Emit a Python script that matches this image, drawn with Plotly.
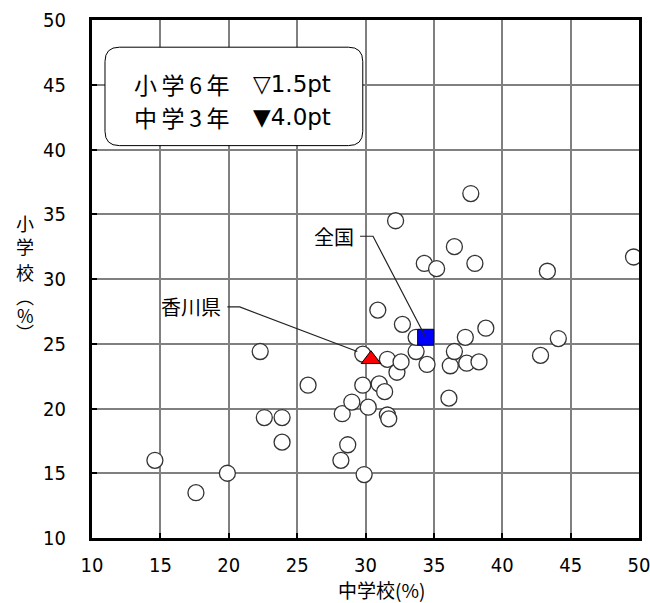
import plotly.graph_objects as go

# 中学校(%) vs 小学校(%) by prefecture
middle_school = [14.6, 17.6, 19.9, 22.3, 22.6, 23.9, 23.9, 25.8, 28.2, 28.3,
                 28.7, 29.0, 29.9, 29.8, 29.8, 30.2, 30.9, 31.0, 31.4, 31.6,
                 31.6, 31.7, 32.2, 32.3, 32.6, 32.7, 33.7, 34.3, 34.5, 35.2,
                 36.1, 36.2, 36.5, 36.5, 37.3, 37.4, 37.7, 38.0, 38.3, 38.8,
                 42.8, 43.3, 44.1, 49.6, 33.7]
elementary = [16.0, 13.5, 15.0, 24.4, 19.3, 19.3, 17.4, 21.8, 16.0, 19.6,
              17.2, 20.5, 14.9, 24.2, 21.8, 20.1, 27.6, 21.9, 21.3, 23.8,
              19.5, 19.2, 34.5, 22.8, 23.6, 26.5, 24.4, 31.2, 23.4, 30.8,
              20.8, 23.3, 32.5, 24.4, 25.5, 23.5, 36.6, 31.2, 23.6, 26.2,
              24.1, 30.6, 25.4, 31.7, 25.5]

kagawa_x, kagawa_y = [30.4], [23.8]
national_x, national_y = [34.4], [25.5]

tick_vals = [10, 15, 20, 25, 30, 35, 40, 45, 50]
tick_text = [str(v) for v in tick_vals]

legend_lines = [("小\u2009学\u20096\u2009年", "▽1.5pt"), ("中\u2009学\u20093\u2009年", "▼4.0pt")]

tick_font = dict(family="Liberation Sans Narrow, DejaVu Sans Condensed, Liberation Sans, sans-serif",
                 size=20, color="black")
jp_font = "Noto Sans CJK JP, sans-serif"

fig = go.Figure()
fig.add_trace(go.Scatter(
    x=middle_school, y=elementary, mode="markers",
    marker=dict(symbol="circle", size=16, color="white",
                line=dict(color="#333333", width=1.3)),
    hoverinfo="x+y", showlegend=False))
fig.add_trace(go.Scatter(
    x=national_x, y=national_y, mode="markers",
    marker=dict(symbol="square", size=16, color="#0000ff",
                line=dict(color="black", width=1)),
    showlegend=False))
fig.add_trace(go.Scatter(
    x=kagawa_x, y=kagawa_y, mode="markers",
    marker=dict(symbol="triangle-up", size=17, color="#ff0000",
                line=dict(color="black", width=1)),
    showlegend=False))

axis_common = dict(
    range=[10, 50], tickvals=tick_vals, ticktext=tick_text,
    showgrid=True, gridcolor="#808080", gridwidth=2,
    showline=True, linecolor="black", linewidth=3, mirror=True,
    ticks="inside", ticklen=5, tickwidth=2, tickcolor="black",
    tickfont=tick_font, zeroline=False, fixedrange=True, automargin=False,
    ticklabeloverflow="allow",
)

fig.update_layout(
    width=650, height=603,
    margin=dict(l=92, r=11, t=20, b=65),
    paper_bgcolor="white", plot_bgcolor="white",
    xaxis=dict(**axis_common, ticklabelstandoff=7),
    yaxis=dict(**axis_common, ticklabelstandoff=19),
)

# rounded legend box (data coords)
x0, x1, y0, y1, rx, ry = 10.95, 29.8, 40.3, 47.9, 1.05, 1.1
path = (f"M {x0+rx},{y1} L {x1-rx},{y1} Q {x1},{y1} {x1},{y1-ry} "
        f"L {x1},{y0+ry} Q {x1},{y0} {x1-rx},{y0} L {x0+rx},{y0} "
        f"Q {x0},{y0} {x0},{y0+ry} L {x0},{y1-ry} Q {x0},{y1} {x0+rx},{y1} Z")
fig.add_shape(type="path", path=path, xref="x", yref="y",
              fillcolor="white", line=dict(color="black", width=1))

for (label, val), yy in zip(legend_lines, [45.05, 42.5]):
    fig.add_annotation(x=12.9, y=yy, xref="x", yref="y", text=label,
                       showarrow=False, xanchor="left", yanchor="middle",
                       font=dict(family=jp_font, size=23, color="black"))
    fig.add_annotation(x=21.6, y=yy, xref="x", yref="y", text=val,
                       showarrow=False, xanchor="left", yanchor="middle",
                       font=dict(family="DejaVu Sans, sans-serif", size=23, color="black"))

# leader lines
fig.add_shape(type="path", xref="x", yref="y",
              path=f"M 29.6,33.3 L 30.55,33.3 L {national_x[0]},{national_y[0]}",
              line=dict(color="#222", width=1.2))
fig.add_shape(type="path", xref="x", yref="y",
              path=f"M 19.9,27.85 L 20.8,27.85 L 29.4,24.4",
              line=dict(color="#222", width=1.2))

fig.add_annotation(x=29.3, y=33.3, xref="x", yref="y", text="全国",
                   showarrow=False, xanchor="right", yanchor="middle",
                   font=dict(family=jp_font, size=20, color="black"))
fig.add_annotation(x=19.6, y=27.85, xref="x", yref="y", text="香川県",
                   showarrow=False, xanchor="right", yanchor="middle",
                   font=dict(family=jp_font, size=20, color="black"))

# axis titles
fig.add_annotation(x=0.53, y=-0.1, xref="paper", yref="paper", text="中学校(%)",
                   showarrow=False, xanchor="center", yanchor="middle",
                   font=dict(family=jp_font, size=19, color="black"))

# vertical y-axis title, one character per row
ytitle_chars = ["小", "学", "校", "︵", "%", "︶"]
ytitle_px = [223, 246, 272, 296, 315, 332]
for ch, py in zip(ytitle_chars, ytitle_px):
    fig.add_annotation(x=-0.122, y=(538 - py) / 518, xref="paper", yref="paper",
                       text=ch, showarrow=False,
                       xanchor="center", yanchor="middle",
                       font=dict(family=jp_font, size=18, color="black"))

fig.write_html("out.html",
               config={"displayModeBar": False},
               post_script="document.body.style.margin='0';"
                           "document.body.style.overflow='hidden';")
